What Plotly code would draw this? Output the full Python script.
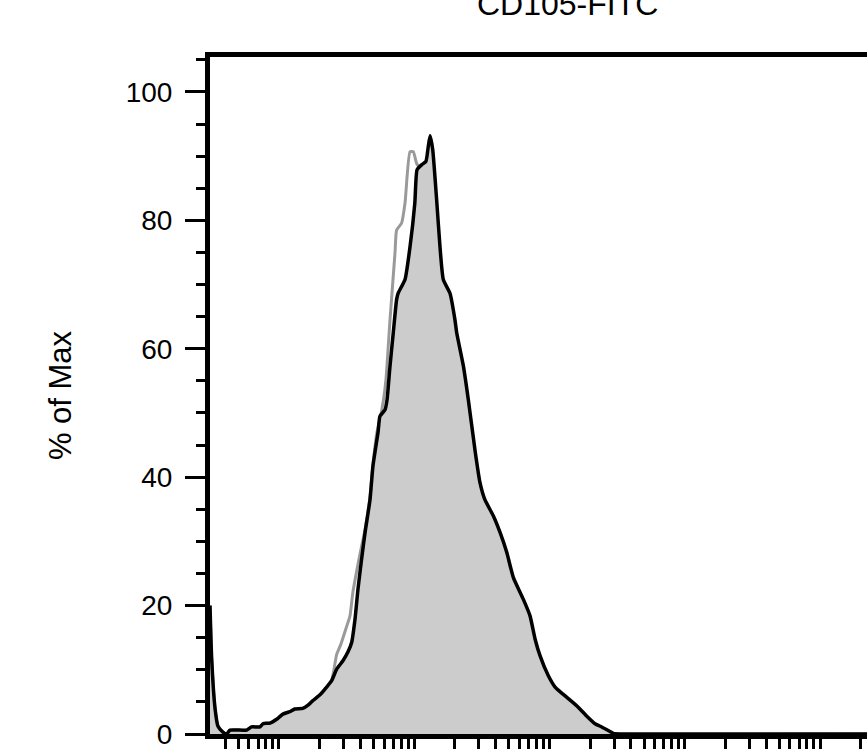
import plotly.graph_objects as go

# CD105-FITC histogram, % of Max
sample_x = [3.09, 3.18, 3.37, 3.54, 3.85, 4.10, 4.35, 5.77, 6.28, 7.24, 7.62, 8.57, 9.62,
            10.7, 12.1, 13.1, 15.0, 16.4, 17.8, 20.1, 22.5, 24.5, 26.7, 29.7, 32.4, 34.5,
            36.5, 38.4, 40.8, 43.3, 47.1, 49.5, 54.0, 55.8, 60.8, 63.0, 66.2, 70.0, 74.1,
            76.2, 85.5, 93.1, 101, 105, 114, 122, 127, 131, 137, 147, 155, 164, 184, 200,
            206, 231, 251, 281, 306, 333, 384, 431, 483, 540, 640, 718, 782, 851, 979,
            1100, 1260, 1590, 1880, 2170, 2430, 2800, 2960, 3550, 224000]
sample_y = [20.0, 11.7, 3.9, 1.2, 0.3, 0.0, 0.6, 0.6, 1.1, 1.1, 1.6, 1.7, 2.3,
            3.1, 3.5, 3.9, 4.0, 4.5, 5.2, 6.1, 7.3, 8.3, 10.1, 11.4, 12.8, 14.3,
            17.9, 22.6, 27.2, 31.4, 36.5, 41.7, 47.0, 49.5, 50.5, 52.1, 57.3, 62.5, 67.7,
            68.7, 70.8, 75.9, 82.7, 87.9, 88.7, 89.2, 91.5, 93.2, 91.0, 82.7, 75.9, 70.8, 68.6, 64.5,
            62.5, 57.3, 52.1, 44.3, 39.2, 36.5, 34.0, 31.4, 28.3, 24.4, 21.0, 18.4, 14.8, 12.2, 9.1,
            7.3, 6.2, 4.4, 2.8, 1.6, 1.1, 0.4, 0.1, 0.0, 0.0]

control_x = [3.09, 3.18, 3.37, 3.54, 3.85, 4.10, 4.35, 5.77, 6.28, 7.24, 7.62, 8.57, 9.62,
             10.7, 12.1, 13.1, 15.0, 16.4, 17.8, 20.1, 22.5, 24.5, 26.7, 28.7, 31.7, 33.5,
             35.2, 37.8, 39.7, 43.3, 47.1, 49.5, 53.1, 55.8, 59.3, 61.8, 66.2, 72.1, 74.1,
             80.7, 85.5, 93.1, 98.4, 104, 108, 120, 131, 147, 164, 184, 231, 281, 333, 431,
             540, 640, 851, 1100, 1590, 2170, 2510, 2820, 224000]
control_y = [20.0, 11.7, 3.9, 1.2, 0.3, 0.0, 0.6, 0.6, 1.1, 1.1, 1.6, 1.7, 2.3,
             3.1, 3.5, 3.9, 4.0, 4.5, 5.2, 6.1, 7.3, 8.3, 12.4, 14.0, 16.8, 18.4,
             22.1, 25.7, 28.0, 31.9, 37.0, 41.9, 47.1, 49.0, 52.1, 55.2, 64.5, 75.0, 78.5,
             79.6, 82.7, 90.7, 90.7, 88.9, 88.4, 87.5, 85.0, 80.0, 69.5, 67.0, 56.0, 43.5, 35.5, 30.5,
             23.5, 20.0, 11.5, 6.8, 3.8, 1.2, 0.2, 0.0, 0.0]

y_major = [0, 20, 40, 60, 80, 100]
x_ticks = [m * 10 ** k for k in range(0, 6) for m in range(1, 10)]

fig = go.Figure()

fig.add_trace(go.Scatter(x=control_x, y=control_y, mode="lines",
                         line=dict(color="#9a9a9a", width=3, shape="spline", smoothing=0.5),
                         name="control", showlegend=False))

fig.add_trace(go.Scatter(x=sample_x, y=sample_y, mode="lines",
                         fill="tozeroy", fillcolor="#cccccc",
                         line=dict(color="black", width=3.5, shape="spline", smoothing=0.5),
                         name="CD105-FITC", showlegend=False))

fig.update_xaxes(type="log",
                 range=[0.49, 5.3475],
                 showgrid=False, zeroline=False,
                 showline=True, linecolor="black", linewidth=5, mirror=True,
                 ticks="outside", tickvals=x_ticks, ticklen=16, tickwidth=2.5,
                 tickcolor="black", showticklabels=False)

fig.update_yaxes(range=[0, 105.45],
                 showgrid=False, zeroline=False,
                 showline=True, linecolor="black", linewidth=5, mirror=False,
                 ticks="outside", tickvals=y_major, ticklen=20, tickwidth=3,
                 tickcolor="black", ticklabelstandoff=7, ticklabeloverflow="allow",
                 minor=dict(ticks="outside", dtick=5, tick0=0, ticklen=9,
                            tickwidth=3, tickcolor="black"),
                 tickfont=dict(size=28, color="black"),
                 title=dict(text="% of Max", font=dict(size=31, color="black"), standoff=46))

fig.add_annotation(text="CD105-FITC", xref="paper", yref="paper",
                   x=0.5434, y=1.079, xanchor="center", yanchor="middle",
                   showarrow=False, font=dict(size=32, color="black"))

fig.update_layout(width=867, height=749,
                  margin=dict(l=210, r=0, t=57, b=15),
                  paper_bgcolor="white", plot_bgcolor="white",
                  font=dict(family="Liberation Sans, Arial, sans-serif", color="black"))

fig.write_html("out.html", config={"displayModeBar": False},
               post_script="document.body.style.margin='0';document.body.style.overflow='hidden';")
